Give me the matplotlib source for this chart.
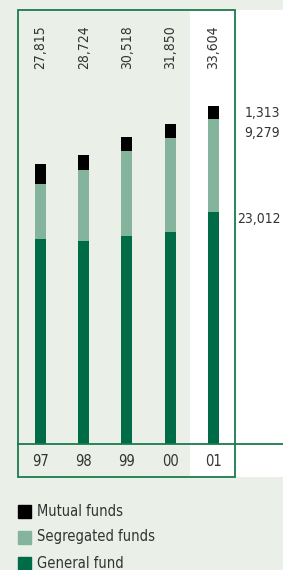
import matplotlib
matplotlib.use("Agg")
import matplotlib.pyplot as plt
from matplotlib.patches import Rectangle
import numpy as np

years = ["97", "98", "99", "00", "01"]
general_fund = [20360, 20160, 20660, 21060, 23012]
segregated = [5465, 7074, 8468, 9400, 9279]
mutual = [1990, 1490, 1390, 1390, 1313]
totals = ["27,815", "28,724", "30,518", "31,850", "33,604"]
last_labels = ["23,012", "9,279", "1,313"]
legend_names = ["Mutual funds", "Segregated funds", "General fund"]

BG = "#eaefe8"
DARK = "#006c47"
LIGHT = "#85b49c"
LINE = "#1b7a4e"
TXT = "#333333"
FONT = dict(family="DejaVu Sans", fontstretch="condensed", color=TXT)

W, H = 283, 570
fig = plt.figure(figsize=(W / 100, H / 100), dpi=100, facecolor=BG)
# axes spans pixel x 18..283, y 10..477
ax = fig.add_axes([18 / W, 1 - 477 / H, (283 - 18) / W, (477 - 10) / H])
ax.set_facecolor(BG)
for s in ax.spines.values():
    s.set_visible(False)
ax.set_xticks([])
ax.set_yticks([])

px_x = 43.2   # pixels per category
px_y = 99.57  # value units per pixel
ax.set_xlim((18 - 40.5) / px_x, (283 - 40.5) / px_x)
ax.set_ylim(-(477 - 443.5) * px_y, (443.5 - 10) * px_y)
ymin, ymax = ax.get_ylim()
xmin, xmax = ax.get_xlim()

# highlighted latest column
ax.axvspan(3.46, xmax, color="white", zorder=0, lw=0)

x = np.arange(len(years))
g = np.array(general_fund)
s = np.array(segregated)
m = np.array(mutual)
bw = 11 / px_x
ax.bar(x, g, width=bw, color=DARK, zorder=2)
ax.bar(x, s, width=bw, bottom=g, color=LIGHT, zorder=2)
ax.bar(x, m, width=bw, bottom=g + s, color="black", zorder=2)

# box and baseline
box_r = (235 - 40.5) / px_x
ax.add_patch(Rectangle((xmin, ymin), box_r - xmin, ymax - ymin, fill=False,
                       edgecolor=LINE, lw=1.3, zorder=3, clip_on=False))
ax.plot([xmin, xmax], [0, 0], color=LINE, lw=1.3, zorder=3, clip_on=False)

for xi, t in zip(x, totals):
    ax.text(xi, (443.5 - 47) * px_y, t, rotation=90, ha="center", va="center",
            fontsize=10, **FONT)
for xi, yl in zip(x, years):
    ax.text(xi, -(461.5 - 443.5) * px_y, yl, ha="center", va="center",
            fontsize=10.5, **FONT)

# labels for the latest year, right of the box
tops = [g[-1], g[-1] + s[-1], g[-1] + s[-1] + m[-1]]
offsets = [0, -5, 0]
for lab, top, off in zip(last_labels, tops, offsets):
    ax.annotate(lab, xy=(xmax, top), xytext=(-2, off), textcoords="offset points",
                ha="right", va="top", fontsize=10, annotation_clip=False, **FONT)

# legend
colors = ["black", LIGHT, DARK]
for i, (name, c) in enumerate(zip(legend_names, colors)):
    yc = 511 + 26 * i
    fig.patches.append(Rectangle((18 / W, 1 - (yc + 6.5) / H), 13 / W, 13 / H,
                                 transform=fig.transFigure, color=c))
    fig.text(37 / W, 1 - yc / H, name, ha="left", va="center",
             fontsize=10.5, **FONT)

fig.savefig("out.png", dpi=100, facecolor=BG)
